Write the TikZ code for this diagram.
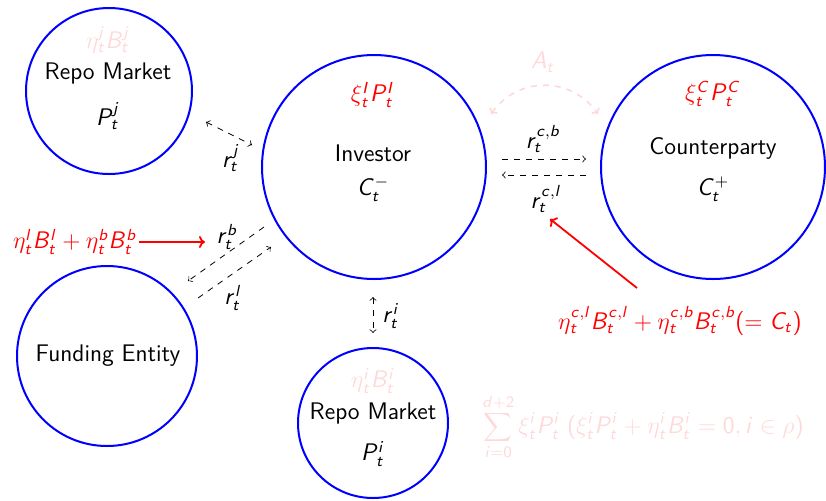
\documentclass[tikz,border=0pt]{standalone}
\usetikzlibrary{arrows.meta}
\DeclareSymbolFont{sfit}{OT1}{cmss}{m}{sl}
\DeclareSymbolFont{sfup}{OT1}{cmss}{m}{n}
\DeclareMathSymbol{A}{\mathalpha}{sfit}{`A}
\DeclareMathSymbol{B}{\mathalpha}{sfit}{`B}
\DeclareMathSymbol{C}{\mathalpha}{sfit}{`C}
\DeclareMathSymbol{I}{\mathalpha}{sfit}{`I}
\DeclareMathSymbol{P}{\mathalpha}{sfit}{`P}
\DeclareMathSymbol{b}{\mathalpha}{sfit}{`b}
\DeclareMathSymbol{c}{\mathalpha}{sfit}{`c}
\DeclareMathSymbol{d}{\mathalpha}{sfit}{`d}
\DeclareMathSymbol{i}{\mathalpha}{sfit}{`i}
\DeclareMathSymbol{j}{\mathalpha}{sfit}{`j}
\DeclareMathSymbol{l}{\mathalpha}{sfit}{`l}
\DeclareMathSymbol{r}{\mathalpha}{sfit}{`r}
\DeclareMathSymbol{t}{\mathalpha}{sfit}{`t}
\DeclareMathSymbol{0}{\mathalpha}{sfup}{`0}
\DeclareMathSymbol{2}{\mathalpha}{sfup}{`2}
\DeclareMathSymbol{(}{\mathopen}{sfup}{`(}
\DeclareMathSymbol{)}{\mathclose}{sfup}{`)}
\begin{document}
\begin{tikzpicture}[x=0.5pt,y=-0.5pt,
  font=\fontsize{12}{14}\selectfont\sffamily,
  ent/.style={circle, draw=blue, line width=1pt, minimum size=#1, inner sep=0pt},
  lbl/.style={inner sep=1pt},
  pk/.style={text=red!15},
  rd/.style={text=red},
  dsh/.style={draw=black, dashed, line width=0.4pt},
  redarr/.style={draw=red, line width=0.9pt, -{To[length=3pt,width=6pt]}},
  pkarr/.style={draw=red!15, dashed, line width=0.8pt, {To[length=2.5pt,width=5pt]}-{To[length=2.5pt,width=5pt]}}]
\useasboundingbox (0,0) rectangle (826,500);

% circles
\node[ent=83pt] (repoj) at (109,91) {};
\node[ent=112pt] (inv) at (374,167) {};
\node[ent=112pt] (cp) at (713,167) {};
\node[ent=90pt] (fund) at (107,356) {};
\node[ent=75pt] (repoi) at (373,423) {};

% texts in circles
\node[pk] (etaj) at (108,40) {$\eta^j_tB^j_t$};
\node (rmj) at (108,73) {Repo Market};
\node (pj) at (108,116) {$P^j_t$};

\node[rd] (xiI) at (373,95) {$\xi^I_tP^I_t$};
\node (invt) at (373,153) {Investor};
\node (cm) at (373,189) {$C^-_t$};

\node[rd] (xiC) at (713,94) {$\xi^C_tP^C_t$};
\node (cpt) at (713,148) {Counterparty};
\node (cpl) at (713,189) {$C^+_t$};

\node (fet) at (108,356) {Funding Entity};

\node[pk] (etai) at (373,381) {$\eta^i_tB^i_t$};
\node (rmi) at (373,413) {Repo Market};
\node (pi) at (373,454) {$P^i_t$};

% r^j
\coordinate (rj1) at (206,122);
\coordinate (rj2) at (252,145);
\draw[dsh, to-to] (rj1) -- (rj2);
\node[lbl] (rjl) at (231,158) {$r^j_t$};

% r^b, r^l
\coordinate (rb1) at (264,227);
\coordinate (rb2) at (188,281);
\draw[dsh, -to] (rb1) -- (rb2);
\coordinate (rl1) at (198,298);
\coordinate (rl2) at (271,247);
\draw[dsh, -to] (rl1) -- (rl2);
\node[lbl] (rbl) at (227,237) {$r^b_t$};
\node[lbl] (rll) at (233,298) {$r^l_t$};

% red arrow left
\node[rd, anchor=east, inner sep=1pt] (funds) at (139,242) {$\eta^l_tB^l_t+\eta^b_tB^b_t$};
\coordinate (fa) at (205,242);
\draw[redarr] (funds) -- (fa);

% r^{c,b}, r^{c,l}
\coordinate (cb1) at (502,159);
\coordinate (cb2) at (586,159);
\draw[dsh, -to] (cb1) -- (cb2);
\coordinate (cl1) at (586,175);
\coordinate (cl2) at (502,175);
\draw[dsh, -to] (cl1) -- (cl2);
\node[lbl] (cbl) at (543,139) {$r^{c,b}_t$};
\node[lbl] (cll) at (546,199) {$r^{c,l}_t$};

% A_t
\coordinate (a1) at (491,114);
\coordinate (a2) at (598,114);
\draw[pkarr] (a1) .. controls (518,76) and (571,76) .. (a2);
\node[pk] (atl) at (543,62) {$A_t$};

% red arrow right
\coordinate (ca1) at (637,288);
\coordinate (ca2) at (550,219);
\draw[redarr] (ca1) -- (ca2);
\node[rd] (cps) at (680,321) {$\eta^{c,l}_tB^{c,l}_t+\eta^{c,b}_tB^{c,b}_t(=C_t)$};

% r^i
\coordinate (ri1) at (373,297);
\coordinate (ri2) at (373,333);
\draw[dsh, to-to] (ri1) -- (ri2);
\node[lbl] (ril) at (391,316) {$r^i_t$};

% sum formula
\node[pk] (sumf) at (643,427) {$\displaystyle\sum_{i=0}^{d+2}\xi^i_tP^i_t\;(\xi^i_tP^i_t+\eta^i_tB^i_t=0,i\in\rho)$};
\end{tikzpicture}
\end{document}
